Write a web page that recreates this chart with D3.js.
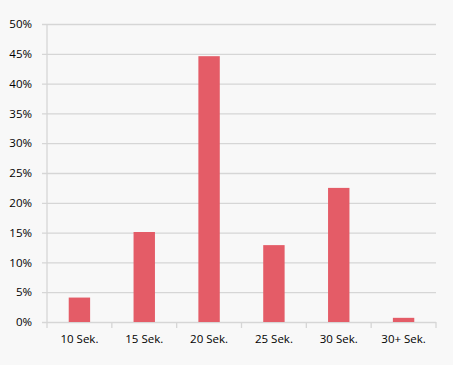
<!DOCTYPE html>
<meta charset="utf-8">
<style>
body { margin: 0; background: #f8f8f8; }
svg { display: block; background: #f8f8f8; }
.axis text { font-family: 'Open Sans', sans-serif; font-size: 11.5px; fill: #000; }
.grid line { stroke: #d6d6d6; stroke-width: 1.3; }
.grid .domain { display: none; }
</style>
<svg id="chart" width="453" height="365"></svg>
<script src="https://cdn.jsdelivr.net/npm/d3@7"></script>
<script>
// data
var categories = ["10 Sek.", "15 Sek.", "20 Sek.", "25 Sek.", "30 Sek.", "30+ Sek."];
var shares = [4.1, 15.1, 44.6, 12.9, 22.5, 0.7];
var yTicks = [0, 5, 10, 15, 20, 25, 30, 35, 40, 45, 50];

var svg = d3.select("#chart");
var margin = {top: 24, right: 17, bottom: 43, left: 47},
    width = +svg.attr("width") - margin.left - margin.right,
    height = +svg.attr("height") - margin.top - margin.bottom;

var g = svg.append("g")
    .attr("transform", "translate(" + margin.left + "," + margin.top + ")");

var x = d3.scaleBand()
    .domain(categories)
    .range([0, width])
    .paddingInner(0.67)
    .paddingOuter(0.335);

var xTicks = d3.scaleBand().domain(categories).range([0, width]);

var y = d3.scaleLinear()
    .domain([0, 50])
    .range([height, 0]);

// horizontal gridlines
g.append("g")
    .attr("class", "grid")
    .call(d3.axisLeft(y).tickValues(yTicks).tickSize(-width - 5).tickFormat(""))
    .attr("transform", "translate(-5,0)")
    .selectAll("line")
    .attr("x1", 0);

// vertical axis line
g.append("line")
    .attr("x1", 0).attr("x2", 0)
    .attr("y1", 0).attr("y2", height)
    .attr("stroke", "#d6d6d6")
    .attr("stroke-width", 1.3);

// category separators below the baseline
g.append("g")
    .selectAll("line")
    .data(d3.range(categories.length + 1))
    .enter().append("line")
    .attr("x1", function(i) { return i * xTicks.bandwidth(); })
    .attr("x2", function(i) { return i * xTicks.bandwidth(); })
    .attr("y1", height)
    .attr("y2", height + 6)
    .attr("stroke", "#d6d6d6")
    .attr("stroke-width", 1.3);

// y labels
g.append("g")
    .attr("class", "axis")
    .call(d3.axisLeft(y).tickValues(yTicks).tickSize(0).tickPadding(15)
      .tickFormat(function(d) { return d + "%"; }))
    .call(function(a) { a.select(".domain").remove(); });

// x labels
g.append("g")
    .attr("class", "axis")
    .attr("transform", "translate(0," + height + ")")
    .call(d3.axisBottom(xTicks).tickSize(0).tickPadding(13))
    .call(function(a) { a.select(".domain").remove(); });

// bars
g.selectAll(".bar")
    .data(shares)
    .enter().append("rect")
    .attr("class", "bar")
    .attr("x", function(d, i) { return x(categories[i]); })
    .attr("width", x.bandwidth())
    .attr("y", function(d) { return y(d); })
    .attr("height", function(d) { return height - y(d); })
    .attr("fill", "#e45c67");
</script>
